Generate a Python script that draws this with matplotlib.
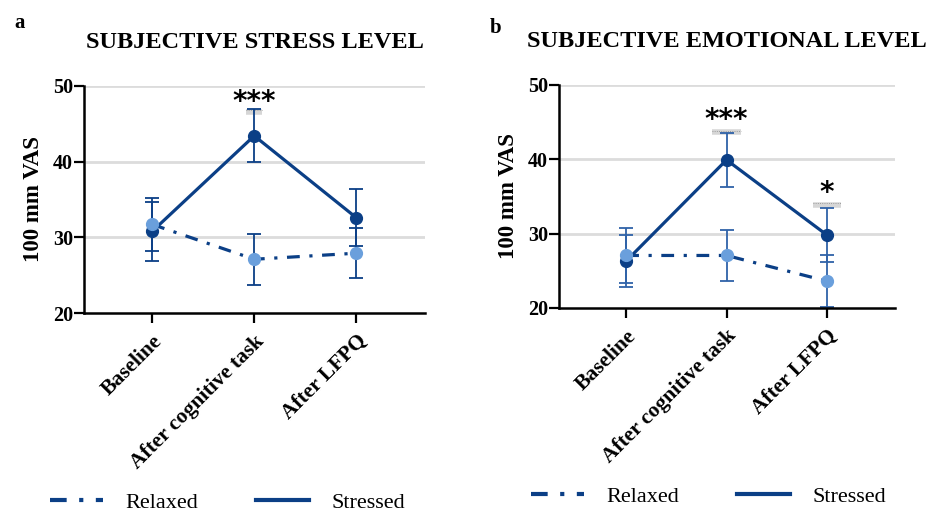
import matplotlib
matplotlib.use("Agg")
import matplotlib.pyplot as plt
from matplotlib.lines import Line2D

plt.rcParams['font.family'] = ['Liberation Serif', 'DejaVu Serif']

timepoints = ['Baseline', 'After cognitive task', 'After LFPQ']

# panel a: subjective stress
stress_stressed = [30.8, 43.4, 32.6]
stress_stressed_err = [3.9, 3.5, 3.8]
stress_relaxed = [31.7, 27.1, 27.9]
stress_relaxed_err = [3.5, 3.35, 3.3]
stress_sig = [(1, 46.6, 47.9, '***')]

# panel b: subjective emotional level
emo_stressed = [26.3, 39.9, 29.8]
emo_stressed_err = [3.55, 3.6, 3.6]
emo_relaxed = [27.05, 27.05, 23.6]
emo_relaxed_err = [3.65, 3.4, 3.45]
emo_sig = [(1, 43.6, 45.3, '***'), (2, 33.8, 35.4, '*')]

dark = '#0b3f86'
light = '#6a9fdc'
relaxed_ls = (0, (4, 3, 1, 3))

fig = plt.figure(figsize=(9.3, 5.14), dpi=100)
ax_a = fig.add_axes([0.0903, 0.391, 0.3667, 0.442])
ax_b = fig.add_axes([0.601, 0.401, 0.361, 0.434])


def draw_panel(ax, title, stressed, s_err, relaxed, r_err, sig, err_col, half):
    x = list(range(len(timepoints)))
    for v in (30, 40, 50):
        ax.axhline(v, color='#dcdcdc', lw=2, zorder=0)
    ax.errorbar(x, stressed, yerr=s_err, fmt='none', ecolor=err_col,
                elinewidth=1.3, capsize=5, capthick=1.3, zorder=2)
    ax.errorbar(x, relaxed, yerr=r_err, fmt='none', ecolor=err_col,
                elinewidth=1.3, capsize=5, capthick=1.3, zorder=2)
    ax.plot(x, stressed, '-', color=dark, lw=2.3, marker='o', ms=8.5,
            mfc=dark, mec=dark, zorder=3)
    ax.plot(x, relaxed, color=dark, lw=2.3, ls=relaxed_ls, zorder=4)
    ax.plot(x, relaxed, 'o', ms=8.5, color=light, zorder=5)
    for xi, yb, yt, txt in sig:
        ax.plot([xi - half, xi + half], [yb, yb], color='#d6d6d6', lw=4,
                solid_capstyle='butt', zorder=1)
        ax.plot([xi - half, xi + half], [yb + 0.25, yb + 0.25], color='#8a8a8a',
                lw=0.6, ls=':', zorder=1)
        ax.text(xi, yt, txt, ha='center', va='center', fontsize=20,
                fontweight='bold', family='DejaVu Sans')

    ax.set_xlim(-0.67, 2.675)
    ax.set_ylim(20, 50)
    ax.set_yticks([20, 30, 40, 50])
    ax.set_xticks(x)
    ax.set_xticklabels(timepoints, rotation=45, ha='right',
                       rotation_mode='anchor', fontweight='bold', fontsize=15.5)
    for lab in ax.get_yticklabels():
        lab.set_fontweight('bold')
        lab.set_fontsize(14.5)
    ax.tick_params(axis='both', length=7, width=1.6, direction='out', pad=1)
    ax.tick_params(axis='x', pad=6)
    for s in ('top', 'right'):
        ax.spines[s].set_visible(False)
    for s in ('left', 'bottom'):
        ax.spines[s].set_linewidth(1.8)
    ax.set_ylabel('100 mm VAS', fontsize=16.5, fontweight='bold', labelpad=6)
    ax.set_title(title, fontsize=17.5, fontweight='bold', pad=27)
    ax.set_facecolor('none')


def add_legend(anchor):
    handles = [Line2D([], [], color=dark, lw=3, ls=relaxed_ls),
               Line2D([], [], color=dark, lw=3)]
    fig.legend(handles, ['Relaxed', 'Stressed'], loc='center left',
               bbox_to_anchor=anchor, ncol=2, frameon=False, fontsize=16,
               handlelength=2.4, columnspacing=2.6, handletextpad=1.0)


draw_panel(ax_a, 'SUBJECTIVE STRESS LEVEL',
           stress_stressed, stress_stressed_err,
           stress_relaxed, stress_relaxed_err, stress_sig, dark, 0.08)
add_legend((0.032, 0.022))

draw_panel(ax_b, 'SUBJECTIVE EMOTIONAL LEVEL',
           emo_stressed, emo_stressed_err,
           emo_relaxed, emo_relaxed_err, emo_sig, '#2f62a8', 0.14)
add_legend((0.549, 0.034))

fig.text(0.015, 0.955, 'a', fontsize=15, fontweight='bold', va='center')
fig.text(0.527, 0.945, 'b', fontsize=15, fontweight='bold', va='center')

fig.savefig('out.png', dpi=100)
